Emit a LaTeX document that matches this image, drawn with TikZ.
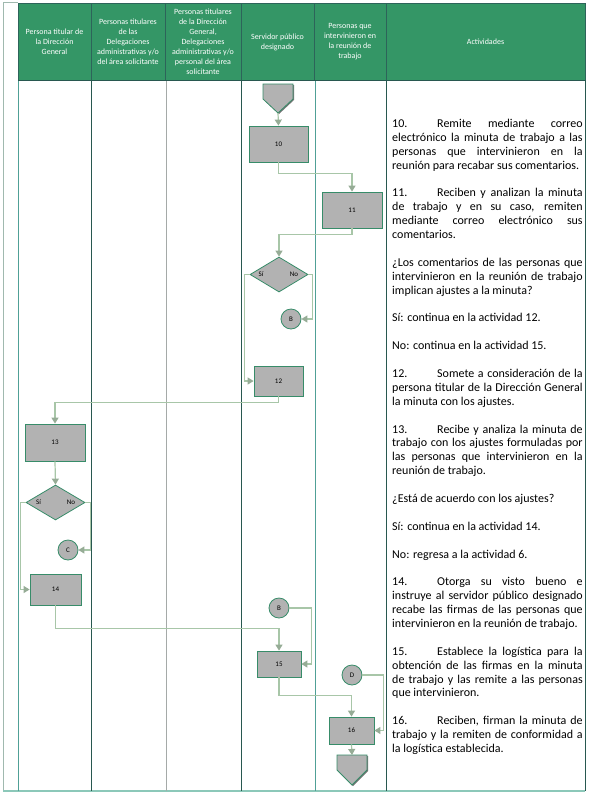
\documentclass[tikz,border=0pt]{standalone}
\usepackage{fontspec}
\setmainfont{Carlito}
\usetikzlibrary{shapes.geometric,arrows.meta,shadows}
\definecolor{hdrgreen}{RGB}{52,150,102}
\definecolor{hdrline}{RGB}{45,100,90}
\definecolor{boxgray}{RGB}{178,178,178}
\definecolor{boxline}{RGB}{55,140,105}
\definecolor{flow}{RGB}{168,198,168}
\definecolor{flowtip}{RGB}{150,172,150}
\definecolor{darkcol}{RGB}{40,88,80}
\definecolor{tealcol}{RGB}{80,160,150}
\definecolor{graycol}{RGB}{165,170,168}
\definecolor{framecol}{RGB}{160,185,175}
\definecolor{bottomcol}{RGB}{140,200,185}
\begin{document}
\begin{tikzpicture}[x=1pt,y=-1pt,
  hdr/.style={fill=hdrgreen,draw=hdrline,line width=1pt},
  hdrtxt/.style={text=white,font=\fontsize{8}{10}\selectfont,align=center,inner sep=0pt},
  act/.style={draw=boxline,fill=boxgray,line width=0.8pt,
    drop shadow={shadow xshift=1pt,shadow yshift=-1pt,fill=black!55,opacity=1},
    font=\fontsize{7}{8}\selectfont,inner sep=0pt},
  dec/.style={diamond,draw=boxline,fill=boxgray,line width=0.8pt,inner sep=0pt},
  conn/.style={circle,draw=boxline,fill=boxgray,line width=0.8pt,minimum size=20pt,
    inner sep=0pt,font=\fontsize{7}{8}\selectfont},
  lbl/.style={font=\fontsize{7}{8}\selectfont,inner sep=0pt},
  flowline/.style={draw=flow,line width=1.2pt,-{Triangle[width=7pt,length=6pt,color=flowtip]}},
  colline/.style={line width=1pt}
]
\useasboundingbox (0,0) rectangle (590,796);
% outer frame
\draw[framecol,line width=1pt] (3,2) -- (18,2);
\draw[framecol,line width=1pt] (3,2) -- (3,791);
\draw[bottomcol,line width=1.5pt] (3,791) -- (585,791);
% header
\draw[hdr] (18,3) rectangle (91,80);
\draw[hdr] (91,3) rectangle (165,80);
\draw[hdr] (165,3) rectangle (241,80);
\draw[hdr] (241,3) rectangle (314,80);
\draw[hdr] (314,3) rectangle (386,80);
\draw[hdr] (386,3) rectangle (585,80);
\node[hdrtxt] (h1) at (54.5,42) {Persona titular de\\la Dirección\\General};
\node[hdrtxt] (h2) at (128,42) {Personas titulares\\de las\\Delegaciones\\administrativas y/o\\del área solicitante};
\node[hdrtxt] (h3) at (203,42) {Personas titulares\\de la Dirección\\General,\\Delegaciones\\administrativas y/o\\personal del área\\solicitante};
\node[hdrtxt] (h4) at (277.5,42) {Servidor público\\designado};
\node[hdrtxt] (h5) at (350,42) {Personas que\\intervinieron en\\la reunión de\\trabajo};
\node[hdrtxt] (h6) at (485.5,42) {Actividades};
% body columns
\draw[colline,tealcol] (18,80) -- (18,791);
\draw[colline,darkcol] (91.5,80) -- (91.5,791);
\draw[graycol,line width=1.6pt] (166.5,80) -- (166.5,791);
\draw[colline,darkcol] (241.5,80) -- (241.5,791);
\draw[colline,tealcol] (315.5,80) -- (315.5,791);
\draw[colline,darkcol] (386.5,80) -- (386.5,791);
\draw[colline,darkcol] (585,80) -- (585,791);
\draw[colline,darkcol] (18,80) -- (585,80);
% off-page connectors
\draw[act] (263,84) -- (293,84) -- (293,99) -- (278,113) -- (263,99) -- cycle;
\coordinate (topc) at (278,113);
\draw[act] (337,755) -- (367,755) -- (367,770) -- (352,785) -- (337,770) -- cycle;
\coordinate (botc) at (352,755);
% activity boxes
\node[act,minimum width=59pt,minimum height=36pt] (b10) at (278.5,144) {10};
\node[act,minimum width=60pt,minimum height=36pt] (b11) at (352,210) {11};
\node[act,minimum width=49pt,minimum height=30pt] (b12) at (278.5,381) {12};
\node[act,minimum width=60pt,minimum height=37pt] (b13) at (55,442.5) {13};
\node[act,minimum width=51pt,minimum height=31pt] (b14) at (55.5,589.5) {14};
\node[act,minimum width=44pt,minimum height=26pt] (b15) at (279,664) {15};
\node[act,minimum width=45pt,minimum height=27pt] (b16) at (351.5,730.5) {16};
% decisions
\node[dec,minimum width=58pt,minimum height=35pt] (d1) at (279,274.5) {};
\node[lbl] (d1si) at (261,274) {Sí};
\node[lbl] (d1no) at (294,274) {No};
\node[dec,minimum width=59pt,minimum height=35pt] (d2) at (55.5,502.5) {};
\node[lbl] (d2si) at (38.5,502.5) {Sí};
\node[lbl] (d2no) at (71,502.5) {No};
% connectors
\node[conn] (cB1) at (291,319) {B};
\node[conn] (cC) at (68,550) {C};
\node[conn] (cB2) at (279,608) {B};
\node[conn] (cD) at (352,675) {D};
% flows
\draw[flowline] (topc) -- (b10.north);
\draw[flowline] (b10.south) -- ++(0,11) -| (b11.north);
\draw[flowline] (b11.south) -- ++(0,6) -| (d1.north);
\draw[flowline] (d1.east) -- ++(4,0) |- (cB1.east);
\draw[flowline] (d1.west) -- ++(-5,0) |- (b12.west);
\draw[flowline] (b12.south) -- ++(0,6) -| (b13.north);
\draw[flowline] (b13.south) -- (d2.north);
\draw[flowline] (d2.west) -- ++(-5,0) |- (b14.west);
\draw[flowline] (d2.east) -- ++(5,0) |- (cC.east);
\draw[flowline] (b14.south) -- ++(0,23) -| (b15.north);
\draw[flowline] (cB2.east) -- ++(22,0) |- (b15.east);
\draw[flowline] (b15.south) -- ++(0,18) -| (b16.north);
\draw[flowline] (cD.east) -- ++(21,0) |- (b16.east);
\draw[flowline] (b16.south) -- (botc);
% activities text
\node[anchor=base west,inner sep=0pt] (acts) at (392,127.5) {\begin{minipage}[t]{190.5pt}%
\fontsize{12}{13.89}\selectfont\parindent0pt\parskip13.89pt\hyphenpenalty10000\tolerance10000\emergencystretch20pt
\makebox[45pt][l]{10.}Remite mediante correo\linebreak electrónico la minuta de trabajo a las\linebreak personas que intervinieron en la\linebreak reunión para recabar sus comentarios.\par
\makebox[45pt][l]{11.}Reciben y analizan la minuta\linebreak de trabajo y en su caso, remiten\linebreak mediante correo electrónico sus\linebreak comentarios.\par
¿Los comentarios de las personas que\linebreak intervinieron en la reunión de trabajo\linebreak implican ajustes a la minuta?\par
Sí: continua en la actividad 12.\par
No: continua en la actividad 15.\par
\makebox[45pt][l]{12.}Somete a consideración de la\linebreak persona titular de la Dirección General\linebreak la minuta con los ajustes.\par
\makebox[45pt][l]{13.}Recibe y analiza la minuta de\linebreak trabajo con los ajustes formuladas por\linebreak las personas que intervinieron en la\linebreak reunión de trabajo.\par
¿Está de acuerdo con los ajustes?\par
Sí: continua en la actividad 14.\par
No: regresa a la actividad 6.\par
\makebox[45pt][l]{14.}Otorga su visto bueno e\linebreak instruye al servidor público designado\linebreak recabe las firmas de las personas que\linebreak intervinieron en la reunión de trabajo.\par
\makebox[45pt][l]{15.}Establece la logística para la\linebreak obtención de las firmas en la minuta\linebreak de trabajo y las remite a las personas\linebreak que intervinieron.\par
\makebox[45pt][l]{16.}Reciben, firman la minuta de\linebreak trabajo y la remiten de conformidad a\linebreak la logística establecida.\par
\end{minipage}};
\end{tikzpicture}
\end{document}
